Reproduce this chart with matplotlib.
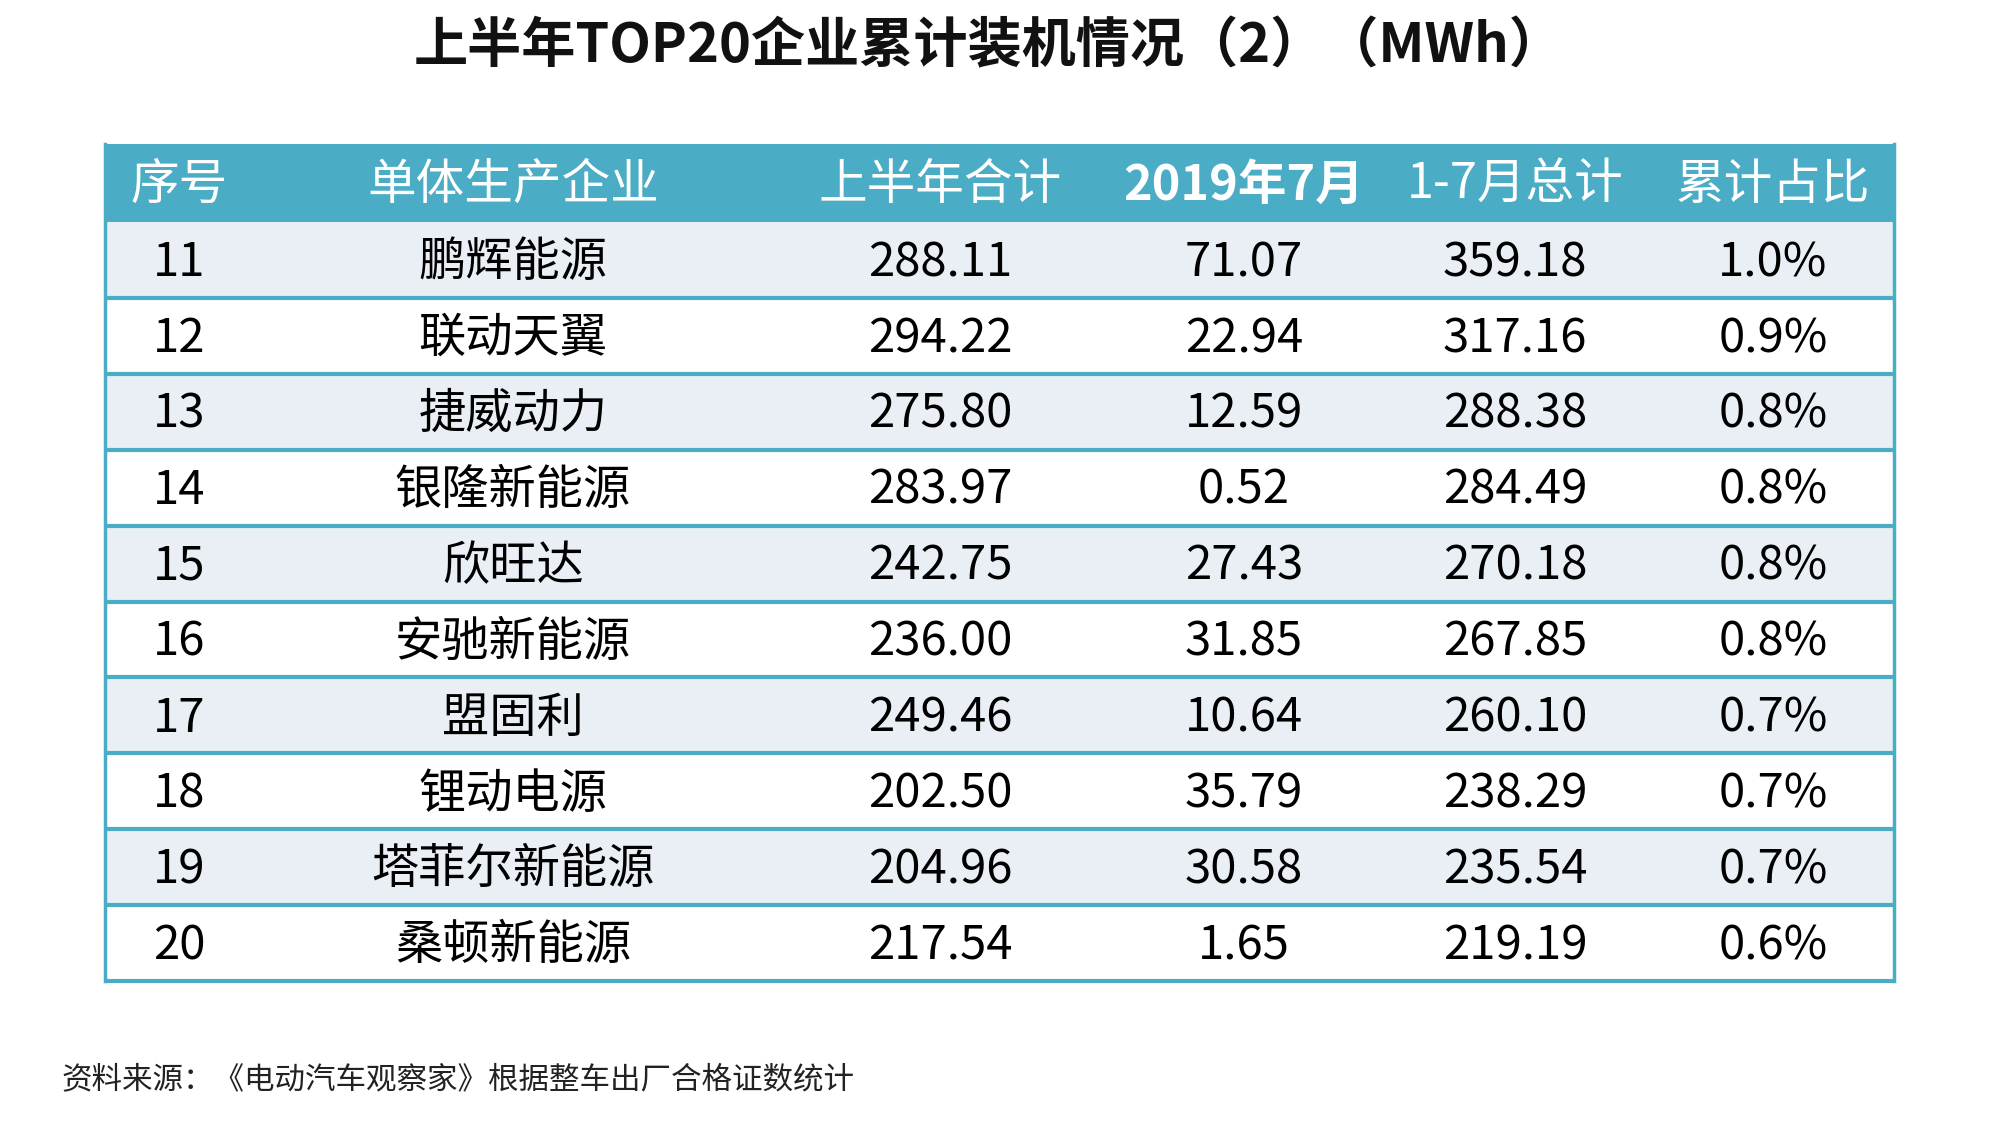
import matplotlib.pyplot as plt
from matplotlib.patches import Rectangle

plt.rcParams['font.family'] = ['Noto Sans CJK SC', 'DejaVu Sans']

# ── data ──
title = "上半年TOP20企业累计装机情况（2）（MWh）"
headers = ["序号", "单体生产企业", "上半年合计", "2019年7月", "1-7月总计", "累计占比"]
header_bold = [False, False, False, True, False, False]
rank = ["11", "12", "13", "14", "15", "16", "17", "18", "19", "20"]
company = ["鹏辉能源", "联动天翼", "捷威动力", "银隆新能源", "欣旺达",
           "安驰新能源", "盟固利", "锂动电源", "塔菲尔新能源", "桑顿新能源"]
h1_total = ["288.11", "294.22", "275.80", "283.97", "242.75",
            "236.00", "249.46", "202.50", "204.96", "217.54"]
july = ["71.07", "22.94", "12.59", "0.52", "27.43",
        "31.85", "10.64", "35.79", "30.58", "1.65"]
jan_jul = ["359.18", "317.16", "288.38", "284.49", "270.18",
           "267.85", "260.10", "238.29", "235.54", "219.19"]
share = ["1.0%", "0.9%", "0.8%", "0.8%", "0.8%",
         "0.8%", "0.7%", "0.7%", "0.7%", "0.6%"]
source = "资料来源：《电动汽车观察家》根据整车出厂合格证数统计"

# ── layout (pixel coords of a 2000x1126 canvas) ──
W, H = 2000, 1126
left, right = 105, 1894
head_top, head_bot = 144, 222
row_h = (981 - head_bot) / len(rank)
col_x = [179, 513, 940, 1244, 1515, 1773]
teal = "#4BACC6"
light = "#E9EFF5"

fig = plt.figure(figsize=(20, 11.26), dpi=100)
ax = fig.add_axes([0, 0, 1, 1])
ax.set_xlim(0, W)
ax.set_ylim(H, 0)
ax.axis("off")

ax.text(989, 47, title, ha="center", va="center", fontsize=39,
        fontweight="bold", color="#111111")

# header
ax.add_patch(Rectangle((left, head_top), right - left, head_bot - head_top,
                       facecolor=teal, edgecolor="none"))
for x, h, b in zip(col_x, headers, header_bold):
    ax.text(x, (head_top + head_bot) / 2 + 2, h, ha="center", va="center",
            fontsize=35, color="white", fontweight="bold" if b else "normal")

# body rows
columns = [rank, company, h1_total, july, jan_jul, share]
for i in range(len(rank)):
    y0 = head_bot + i * row_h
    fc = light if i % 2 == 0 else "white"
    ax.add_patch(Rectangle((left, y0), right - left, row_h,
                           facecolor=fc, edgecolor="none"))
    yc = y0 + row_h / 2 + 3
    for x, col in zip(col_x, columns):
        ax.text(x, yc, col[i], ha="center", va="center",
                fontsize=34, color="black")
    ax.plot([left, right], [y0 + row_h, y0 + row_h], color=teal, lw=3,
            solid_capstyle="butt")

# side borders
bottom = head_bot + len(rank) * row_h
ax.plot([left, left], [head_top, bottom], color=teal, lw=2.5)
ax.plot([right, right], [head_top, bottom], color=teal, lw=2.5)

ax.text(61, 1080, source, ha="left", va="center", fontsize=22, color="#222222")

fig.savefig("out.png", dpi=100)
